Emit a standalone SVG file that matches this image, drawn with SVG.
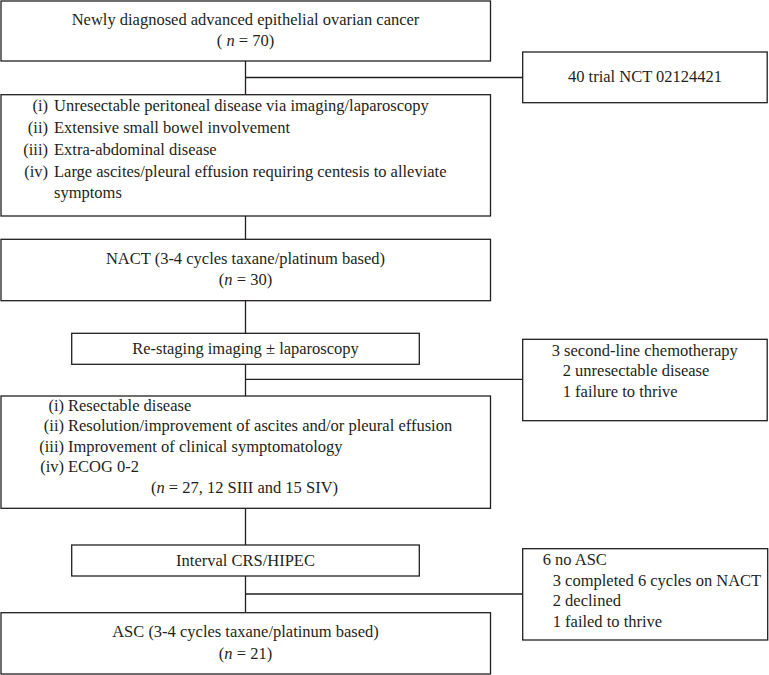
<svg xmlns="http://www.w3.org/2000/svg" width="769" height="675" viewBox="0 0 769 675">
<style>
.box{fill:#fff;stroke:#231f20;stroke-width:1.3}
.ln{fill:none;stroke:#231f20;stroke-width:1.3}
text{font-family:"Liberation Serif","Times New Roman",serif;font-size:16.5px;fill:#231f20}
.c{text-anchor:middle}
.r{text-anchor:end}
.i{font-style:italic}
</style>
<rect width="769" height="675" fill="#fff"/>
<g id="connectors">
<path class="ln" d="M245.5 61V94.7M245.5 77.5H522.7"/>
<path class="ln" d="M245.5 216V239.3"/>
<path class="ln" d="M245.5 300.7V333.3"/>
<path class="ln" d="M245.5 364.3V396M245.5 379.3H522.7"/>
<path class="ln" d="M245.5 508.3V545"/>
<path class="ln" d="M245.5 576V612.7M245.5 594H522.7"/>
</g>
<g id="n1">
<rect class="box" x="1" y="1" width="489.5" height="60"/>
<text class="c" x="245.5" y="25">Newly diagnosed advanced epithelial ovarian cancer</text>
<text class="c" x="245.5" y="46">( <tspan class="i">n</tspan> = 70)</text>
</g>
<g id="n2">
<rect class="box" x="522.7" y="52" width="244.5" height="50.7"/>
<text class="c" x="645" y="82">40 trial NCT 02124421</text>
</g>
<g id="n3">
<rect class="box" x="1" y="94.7" width="489.5" height="121.3"/>
<text class="r" x="48" y="111">(i)</text>
<text x="54" y="111">Unresectable peritoneal disease via imaging/laparoscopy</text>
<text class="r" x="48" y="133">(ii)</text>
<text x="54" y="133">Extensive small bowel involvement</text>
<text class="r" x="48" y="155">(iii)</text>
<text x="54" y="155">Extra-abdominal disease</text>
<text class="r" x="48" y="176.5">(iv)</text>
<text x="54" y="176.5">Large ascites/pleural effusion requiring centesis to alleviate</text>
<text x="54" y="198">symptoms</text>
</g>
<g id="n4">
<rect class="box" x="1" y="239.3" width="489.5" height="61.4"/>
<text class="c" x="245.5" y="263.5">NACT (3-4 cycles taxane/platinum based)</text>
<text class="c" x="245.5" y="284.5">(<tspan class="i">n</tspan> = 30)</text>
</g>
<g id="n5">
<rect class="box" x="71.7" y="333.3" width="347.6" height="31"/>
<text class="c" x="245.5" y="354">Re-staging imaging ± laparoscopy</text>
</g>
<g id="n6">
<rect class="box" x="522.7" y="339.3" width="244.5" height="81.4"/>
<text x="551.7" y="355.5">3 second-line chemotherapy</text>
<text x="562.7" y="376">2 unresectable disease</text>
<text x="562.7" y="396.5">1 failure to thrive</text>
</g>
<g id="n7">
<rect class="box" x="1" y="396" width="489.5" height="112.3"/>
<text class="r" x="64" y="410.5">(i)</text>
<text x="68" y="410.5">Resectable disease</text>
<text class="r" x="64" y="431">(ii)</text>
<text x="68" y="431">Resolution/improvement of ascites and/or pleural effusion</text>
<text class="r" x="64" y="451.5">(iii)</text>
<text x="68" y="451.5">Improvement of clinical symptomatology</text>
<text class="r" x="64" y="472">(iv)</text>
<text x="68" y="472">ECOG 0-2</text>
<text class="c" x="244.5" y="493">(<tspan class="i">n</tspan> = 27, 12 SIII and 15 SIV)</text>
</g>
<g id="n8">
<rect class="box" x="71.7" y="545" width="347.6" height="31"/>
<text class="c" x="245.5" y="565.5">Interval CRS/HIPEC</text>
</g>
<g id="n9">
<rect class="box" x="522.7" y="548.7" width="245" height="91.3"/>
<text x="542.7" y="564.5">6 no ASC</text>
<text x="552.7" y="585.5">3 completed 6 cycles on NACT</text>
<text x="552.7" y="606">2 declined</text>
<text x="552.7" y="626.5">1 failed to thrive</text>
</g>
<g id="n10">
<rect class="box" x="1" y="612.7" width="489.5" height="61.3"/>
<text class="c" x="245.5" y="637">ASC (3-4 cycles taxane/platinum based)</text>
<text class="c" x="245.5" y="658.5">(<tspan class="i">n</tspan> = 21)</text>
</g>
</svg>
